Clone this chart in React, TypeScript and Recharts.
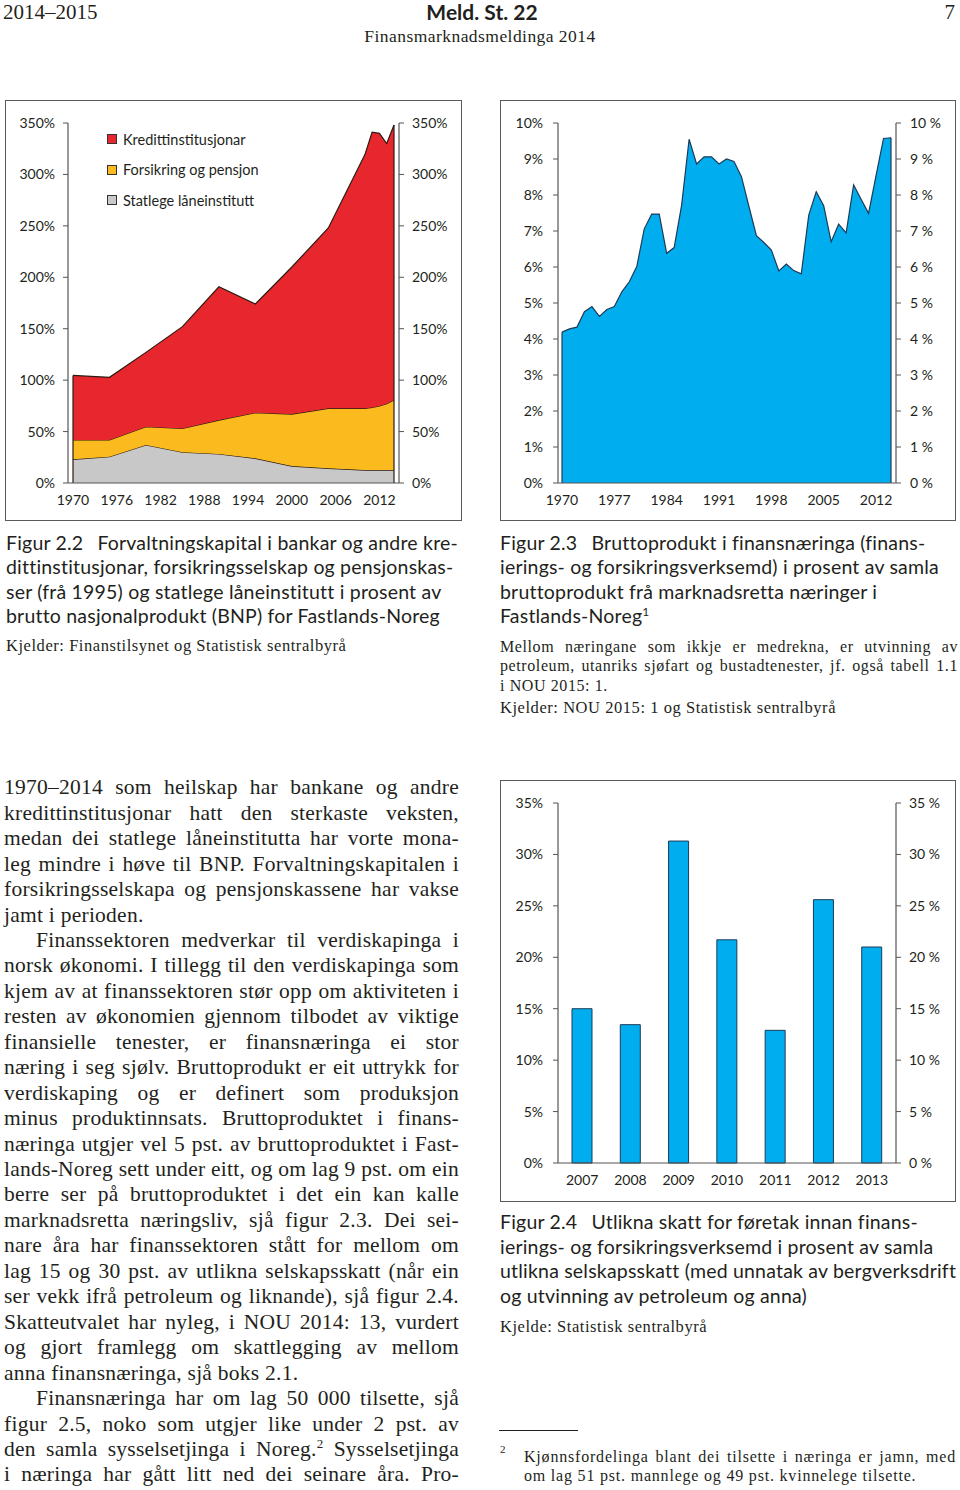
import React from 'react';
import { ComposedChart, Area, Bar, Line, XAxis, YAxis, Legend, ReferenceLine } from 'recharts';

// ---------- Figur 2.2 ----------
const years22 = [1970, 1975, 1980, 1985, 1990, 1995, 2000, 2005, 2010, 2011, 2012, 2013, 2014];
const statlege = [23, 25.6, 37, 30, 28.2, 24, 16.5, 14.3, 12.6, 12.6, 12.6, 12.6, 12.6];
const forsikring = [18.8, 16.2, 17.7, 23.1, 33, 44.3, 50.5, 58.3, 60, 60.9, 62.3, 64.4, 68.1];
const kreditt = [62.8, 60.9, 72.3, 98.9, 129.6, 105.7, 143, 175.4, 246.4, 267.5, 265.1, 253, 267.3];
const ticks22Y = [0, 50, 100, 150, 200, 250, 300, 350];
const ticks22X = [1970, 1976, 1982, 1988, 1994, 2000, 2006, 2012];
const names22 = ['Kredittinstitusjonar', 'Forsikring og pensjon', 'Statlege låneinstitutt'];

// ---------- Figur 2.3 ----------
const years23 = [1970, 1971, 1972, 1973, 1974, 1975, 1976, 1977, 1978, 1979, 1980, 1981, 1982, 1983, 1984, 1985, 1986, 1987, 1988, 1989, 1990, 1991, 1992, 1993, 1994, 1995, 1996, 1997, 1998, 1999, 2000, 2001, 2002, 2003, 2004, 2005, 2006, 2007, 2008, 2009, 2010, 2011, 2012, 2013, 2014];
const bruttoprodukt = [4.19, 4.28, 4.33, 4.76, 4.9, 4.63, 4.82, 4.9, 5.31, 5.59, 6.01, 7.06, 7.47, 7.47, 6.38, 6.54, 7.72, 9.55, 8.86, 9.06, 9.06, 8.86, 9.0, 8.93, 8.51, 7.68, 6.87, 6.68, 6.47, 5.89, 6.08, 5.9, 5.81, 7.44, 8.09, 7.7, 6.7, 7.19, 6.95, 8.28, 7.88, 7.49, 8.54, 9.57, 9.59];
const ticks23Y = [0, 1, 2, 3, 4, 5, 6, 7, 8, 9, 10];
const ticks23X = [1970, 1977, 1984, 1991, 1998, 2005, 2012];

// ---------- Figur 2.4 ----------
const years24 = ['2007', '2008', '2009', '2010', '2011', '2012', '2013'];
const skatt = [15.0, 13.45, 31.3, 21.7, 12.9, 25.6, 21.0];
const ticks24Y = [0, 5, 10, 15, 20, 25, 30, 35];

const RED = '#E8262E';
const YELLOW = '#FBBA1E';
const GREY = '#C8C8C8';
const BLUE = '#00AEEF';
const AXIS = '#555555';
const TXT = '#231f20';
const SANS = 'Lato, "Open Sans", sans-serif';
const SERIF = '"Liberation Serif", "Times New Roman", serif';

const data22 = years22.map((y, i) => ({ year: y, statlege: statlege[i], forsikring: forsikring[i], kreditt: kreditt[i] }));
const data23 = years23.map((y, i) => ({ year: y, v: bruttoprodukt[i] }));
const data24 = years24.map((y, i) => ({ year: y, v: skatt[i] }));

const tickStyle = { fontSize: 14, fontFamily: SANS, fill: TXT };

const total22First = statlege[0] + forsikring[0] + kreditt[0];
const total22Last = statlege[statlege.length - 1] + forsikring[forsikring.length - 1] + kreditt[kreditt.length - 1];

const legendColors = [RED, YELLOW, GREY];

const Legend22 = () => (
  <div style={{ fontFamily: SANS, fontSize: 14.5, color: TXT }}>
    {names22.map((n, i) => (
      <div key={n} style={{ display: 'flex', alignItems: 'center', height: 30.5 }}>
        <span style={{ display: 'inline-block', width: 8, height: 8, background: legendColors[i], border: '1px solid #333', marginRight: 6 }} />
        <span>{n}</span>
      </div>
    ))}
  </div>
);

type LProps = { top: number; left: number; width: number; size: number; lh: number; family: string; justify?: boolean; children: React.ReactNode; weight?: number; align?: 'left' | 'center' | 'right'; ls?: number };
const TLine = ({ top, left, width, size, lh, family, justify, children, weight, align, ls }: LProps) => (
  <div
    style={{
      position: 'absolute',
      top: top - lh / 2,
      left,
      width,
      height: lh,
      lineHeight: lh + 'px',
      fontSize: size,
      fontFamily: family,
      fontWeight: weight || 400,
      letterSpacing: ls || 0,
      whiteSpace: 'nowrap',
      textAlign: justify ? 'justify' : align || 'left',
      textAlignLast: justify ? 'justify' : align || 'left',
      color: TXT,
    }}
  >
    {children}
  </div>
);

const bodyLines: [string, boolean, number][] = [
  ['1970–2014 som heilskap har bankane og andre', true, 0],
  ['kredittinstitusjonar hatt den sterkaste veksten,', true, 0],
  ['medan dei statlege låneinstitutta har vorte mona-', true, 0],
  ['leg mindre i høve til BNP. Forvaltningskapitalen i', true, 0],
  ['forsikringsselskapa og pensjonskassene har vakse', true, 0],
  ['jamt i perioden.', false, 0],
  ['Finanssektoren medverkar til verdiskapinga i', true, 32],
  ['norsk økonomi. I tillegg til den verdiskapinga som', true, 0],
  ['kjem av at finanssektoren stør opp om aktiviteten i', true, 0],
  ['resten av økonomien gjennom tilbodet av viktige', true, 0],
  ['finansielle tenester, er finansnæringa ei stor', true, 0],
  ['næring i seg sjølv. Bruttoprodukt er eit uttrykk for', true, 0],
  ['verdiskaping og er definert som produksjon', true, 0],
  ['minus produktinnsats. Bruttoproduktet i finans-', true, 0],
  ['næringa utgjer vel 5 pst. av bruttoproduktet i Fast-', true, 0],
  ['lands-Noreg sett under eitt, og om lag 9 pst. om ein', true, 0],
  ['berre ser på bruttoproduktet i det ein kan kalle', true, 0],
  ['marknadsretta næringsliv, sjå figur 2.3. Dei sei-', true, 0],
  ['nare åra har finanssektoren stått for mellom om', true, 0],
  ['lag 15 og 30 pst. av utlikna selskapsskatt (når ein', true, 0],
  ['ser vekk ifrå petroleum og liknande), sjå figur 2.4.', true, 0],
  ['Skatteutvalet har nyleg, i NOU 2014: 13, vurdert', true, 0],
  ['og gjort framlegg om skattlegging av mellom', true, 0],
  ['anna finansnæringa, sjå boks 2.1.', false, 0],
  ['Finansnæringa har om lag 50 000 tilsette, sjå', true, 32],
  ['figur 2.5, noko som utgjer like under 2 pst. av', true, 0],
  ['SUP', true, 0],
  ['i næringa har gått litt ned dei seinare åra. Pro-', true, 0],
];

const Frame = ({ left, top, width, height }: { left: number; top: number; width: number; height: number }) => (
  <div style={{ position: 'absolute', left, top, width, height, border: '1.5px solid #5a5a5a', boxSizing: 'border-box' }} />
);

const CAP = 19.5;
const CAPLS = 0.2;

export default function App() {
  return (
    <div style={{ position: 'relative', width: 960, height: 1490, background: '#fff', overflow: 'hidden' }}>
      <style>{`body{margin:0;background:#fff}`}</style>

      {/* Header */}
      <TLine top={12} left={3} width={150} size={21} lh={24} family={SERIF}>2014–2015</TLine>
      <TLine top={12} left={380} width={204} size={21} lh={24} family={SANS} weight={700} align="center">Meld. St. 22</TLine>
      <TLine top={12} left={900} width={55} size={21} lh={24} family={SERIF} align="right">7</TLine>
      <TLine top={36} left={330} width={300} size={17.5} lh={22} family={SERIF} align="center" ls={0.45}>Finansmarknadsmeldinga 2014</TLine>

      {/* Frames */}
      <Frame left={5} top={100} width={457} height={421} />
      <Frame left={500} top={100} width={456} height={421} />
      <Frame left={500} top={780} width={456} height={422} />

      {/* Figur 2.2 chart */}
      <div style={{ position: 'absolute', left: 0, top: 100 }}>
        <ComposedChart width={460} height={421} data={data22} margin={{ top: 23, right: 0, bottom: 8, left: 0 }}>
          <XAxis dataKey="year" type="number" domain={[1970, 2014]} ticks={ticks22X} padding={{ left: 5, right: 5 }} tickLine={false} tickSize={6} tickMargin={6} axisLine={{ stroke: AXIS, strokeWidth: 1.2 }} tick={tickStyle} height={30} interval={0} />
          <YAxis width={68} domain={[0, 350]} ticks={ticks22Y} tickFormatter={(v: number) => `${v}%`} tickSize={5} tickMargin={8} axisLine={{ stroke: AXIS, strokeWidth: 1.2 }} tickLine={{ stroke: AXIS }} tick={tickStyle} interval={0} />
          <YAxis yAxisId="r" orientation="right" width={61} domain={[0, 350]} allowDataOverflow ticks={ticks22Y} tickFormatter={(v: number) => `${v}%`} tickSize={5} tickMargin={8} axisLine={{ stroke: AXIS, strokeWidth: 1.2 }} tickLine={{ stroke: AXIS }} tick={tickStyle} interval={0} />
          <Area type="linear" dataKey="statlege" name={names22[2]} stackId="a" fill={GREY} fillOpacity={1} stroke="#2b1b10" strokeWidth={1.2} isAnimationActive={false} />
          <Area type="linear" dataKey="forsikring" name={names22[1]} stackId="a" fill={YELLOW} fillOpacity={1} stroke="#2b1b10" strokeWidth={1.2} isAnimationActive={false} />
          <Area type="linear" dataKey="kreditt" name={names22[0]} stackId="a" fill={RED} fillOpacity={1} stroke="#2b1b10" strokeWidth={1.2} isAnimationActive={false} />
          <Line yAxisId="r" type="linear" dataKey="statlege" stroke="none" dot={false} activeDot={false} legendType="none" isAnimationActive={false} />
          <ReferenceLine segment={[{ x: years22[0], y: 0 }, { x: years22[0], y: total22First }]} stroke="#2b1b10" strokeWidth={1.2} />
          <ReferenceLine segment={[{ x: years22[years22.length - 1], y: 0 }, { x: years22[years22.length - 1], y: total22Last }]} stroke="#2b1b10" strokeWidth={1.2} />
          <Legend layout="vertical" align="center" verticalAlign="middle" content={() => <Legend22 />} wrapperStyle={{ left: 107, top: 24, width: 200 }} />
        </ComposedChart>
      </div>

      {/* Figur 2.3 chart */}
      <div style={{ position: 'absolute', left: 500, top: 100 }}>
        <ComposedChart width={456} height={421} data={data23} margin={{ top: 23, right: 0, bottom: 8, left: 0 }}>
          <XAxis dataKey="year" type="number" domain={[1970, 2014]} ticks={ticks23X} padding={{ left: 4, right: 5 }} tickLine={false} tickSize={6} tickMargin={6} axisLine={{ stroke: AXIS, strokeWidth: 1.2 }} tick={tickStyle} height={30} interval={0} />
          <YAxis width={58} domain={[0, 10]} ticks={ticks23Y} tickFormatter={(v: number) => `${v}%`} tickSize={5} tickMargin={10} axisLine={{ stroke: AXIS, strokeWidth: 1.2 }} tickLine={{ stroke: AXIS }} tick={tickStyle} interval={0} />
          <YAxis yAxisId="r" orientation="right" width={60} domain={[0, 10]} allowDataOverflow ticks={ticks23Y} tickFormatter={(v: number) => `${v} %`} tickSize={5} tickMargin={9} axisLine={{ stroke: AXIS, strokeWidth: 1.2 }} tickLine={{ stroke: AXIS }} tick={tickStyle} interval={0} />
          <Area type="linear" dataKey="v" fill={BLUE} fillOpacity={1} stroke="#1d3b57" strokeWidth={1.2} isAnimationActive={false} />
          <Line yAxisId="r" type="linear" dataKey="v" stroke="none" dot={false} activeDot={false} legendType="none" isAnimationActive={false} />
          <ReferenceLine segment={[{ x: years23[0], y: 0 }, { x: years23[0], y: bruttoprodukt[0] }]} stroke="#1d3b57" strokeWidth={1.2} />
          <ReferenceLine segment={[{ x: years23[years23.length - 1], y: 0 }, { x: years23[years23.length - 1], y: bruttoprodukt[bruttoprodukt.length - 1] }]} stroke="#1d3b57" strokeWidth={1.2} />
        </ComposedChart>
      </div>

      {/* Figur 2.4 chart */}
      <div style={{ position: 'absolute', left: 500, top: 780 }}>
        <ComposedChart width={456} height={422} data={data24} margin={{ top: 23, right: 0, bottom: 9, left: 0 }}>
          <XAxis dataKey="year" tickLine={false} tickSize={6} tickMargin={6} axisLine={{ stroke: AXIS, strokeWidth: 1.2 }} tick={tickStyle} height={30} interval={0} />
          <YAxis width={58} domain={[0, 35]} ticks={ticks24Y} tickFormatter={(v: number) => `${v}%`} tickSize={5} tickMargin={10} axisLine={{ stroke: AXIS, strokeWidth: 1.2 }} tickLine={{ stroke: AXIS }} tick={tickStyle} interval={0} />
          <YAxis yAxisId="r" orientation="right" width={60} domain={[0, 35]} allowDataOverflow ticks={ticks24Y} tickFormatter={(v: number) => `${v} %`} tickSize={5} tickMargin={8} axisLine={{ stroke: AXIS, strokeWidth: 1.2 }} tickLine={{ stroke: AXIS }} tick={tickStyle} interval={0} />
          <Bar dataKey="v" barSize={20} fill={BLUE} stroke="#1d3b57" strokeWidth={1} isAnimationActive={false} />
          <Line yAxisId="r" type="linear" dataKey="v" stroke="none" dot={false} activeDot={false} legendType="none" isAnimationActive={false} />
        </ComposedChart>
      </div>

      {/* Figur 2.2 caption */}
      {[
        <>Figur 2.2<span style={{ display: 'inline-block', width: 14 }} />Forvaltningskapital i bankar og andre kre-</>,
        <>dittinstitusjonar, forsikringsselskap og pensjonskas-</>,
        <>ser (frå 1995) og statlege låneinstitutt i prosent av</>,
        <>brutto nasjonalprodukt (BNP) for Fastlands-Noreg</>,
      ].map((c, i) => (
        <TLine key={'c22' + i} top={543 + i * 24.3} left={6} width={470} size={CAP} lh={24} family={SANS} ls={CAPLS}>{c}</TLine>
      ))}
      <TLine top={646} left={6} width={470} size={16.5} lh={20} family={SERIF} ls={0.55}>Kjelder: Finanstilsynet og Statistisk sentralbyrå</TLine>

      {/* Figur 2.3 caption */}
      {[
        <>Figur 2.3<span style={{ display: 'inline-block', width: 14 }} />Bruttoprodukt i finansnæringa (finans-</>,
        <>ierings- og forsikringsverksemd) i prosent av samla</>,
        <>bruttoprodukt frå marknadsretta næringer i</>,
        <>Fastlands-Noreg<span style={{ fontSize: 12, position: 'relative', top: -7 }}>1</span></>,
      ].map((c, i) => (
        <TLine key={'c23' + i} top={543 + i * 24.3} left={500} width={460} size={CAP} lh={24} family={SANS} ls={CAPLS}>{c}</TLine>
      ))}
      <TLine top={647} left={500} width={458} size={16} lh={19.5} family={SERIF} justify ls={0.6}>Mellom næringane som ikkje er medrekna, er utvinning av</TLine>
      <TLine top={666} left={500} width={458} size={16} lh={19.5} family={SERIF} justify ls={0.6}>petroleum, utanriks sjøfart og bustadtenester, jf. også tabell 1.1</TLine>
      <TLine top={686} left={500} width={458} size={16} lh={19.5} family={SERIF} ls={0.6}>i NOU 2015: 1.</TLine>
      <TLine top={708} left={500} width={458} size={16.5} lh={20} family={SERIF} ls={0.55}>Kjelder: NOU 2015: 1 og Statistisk sentralbyrå</TLine>

      {/* Body text */}
      {bodyLines.map(([t, j, indent], i) => (
        <TLine key={'b' + i} top={788 + i * 25.45} left={4 + indent} width={455 - indent} size={21.5} lh={25.45} family={SERIF} justify={j} ls={0.25}>
          {t === 'SUP' ? (
            <>den samla sysselsetjinga i Noreg.<span style={{ fontSize: 13, position: 'relative', top: -8 }}>2</span> Sysselsetjinga</>
          ) : (
            t
          )}
        </TLine>
      ))}

      {/* Figur 2.4 caption */}
      {[
        <>Figur 2.4<span style={{ display: 'inline-block', width: 14 }} />Utlikna skatt for føretak innan finans-</>,
        <>ierings- og forsikringsverksemd i prosent av samla</>,
        <>utlikna selskapsskatt (med unnatak av bergverksdrift</>,
        <>og utvinning av petroleum og anna)</>,
      ].map((c, i) => (
        <TLine key={'c24' + i} top={1222 + i * 24.6} left={500} width={460} size={CAP} lh={24} family={SANS} ls={CAPLS}>{c}</TLine>
      ))}
      <TLine top={1327} left={500} width={458} size={16.5} lh={20} family={SERIF} ls={0.55}>Kjelde: Statistisk sentralbyrå</TLine>

      {/* Footnote */}
      <div style={{ position: 'absolute', left: 499, top: 1430, width: 79, height: 1, background: '#231f20' }} />
      <TLine top={1449} left={500} width={20} size={11} lh={14} family={SERIF}>2</TLine>
      <TLine top={1456} left={524} width={432} size={16} lh={19} family={SERIF} justify ls={0.8}>Kjønnsfordelinga blant dei tilsette i næringa er jamn, med</TLine>
      <TLine top={1475} left={524} width={432} size={16} lh={19} family={SERIF} ls={0.8}>om lag 51 pst. mannlege og 49 pst. kvinnelege tilsette.</TLine>
    </div>
  );
}
